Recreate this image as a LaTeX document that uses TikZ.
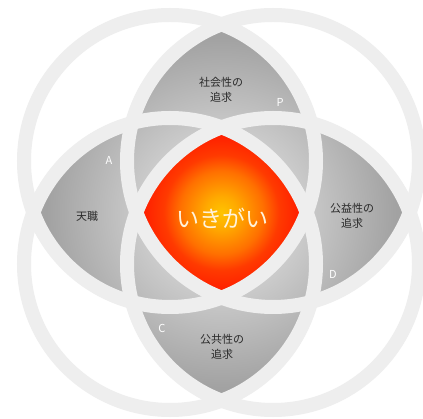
\documentclass[tikz,border=0pt]{standalone}
\usepackage{fontspec}
\newfontfamily\cjk{Noto Sans CJK JP}
\definecolor{ringc}{HTML}{EEEEEE}
\definecolor{pl}{HTML}{CDCDCD}
\definecolor{pm}{HTML}{B9B9B9}
\definecolor{pd}{HTML}{A2A2A2}
\definecolor{c0}{HTML}{FFC400}
\definecolor{c1}{HTML}{FFAA00}
\definecolor{c2}{HTML}{FF7000}
\definecolor{c3}{HTML}{FF3A00}
\definecolor{c4}{HTML}{FF2000}
\definecolor{labelc}{HTML}{2A2A2A}
\definecolor{corec}{HTML}{FFF3DC}
\pgfdeclareradialshading{petal}{\pgfpointorigin}{color(0bp)=(pl); color(10bp)=(pl); color(16bp)=(pm); color(23bp)=(pd); color(50bp)=(pd)}
\pgfdeclareradialshading{core}{\pgfpointorigin}{color(0bp)=(c0); color(5bp)=(c1); color(13bp)=(c2); color(18bp)=(c3); color(24bp)=(c4); color(50bp)=(c4)}
\tikzset{
  ring/.style={draw=ringc, line width=14pt},
  lbl/.style={font=\cjk\fontsize{11}{15.5}\selectfont, text=labelc, align=center, inner sep=0pt},
  letter/.style={font=\cjk\fontsize{11}{13}\selectfont, text=white, inner sep=0pt},
  coretext/.style={font=\cjk\fontsize{23}{26}\selectfont, text=corec, inner sep=0pt}
}
\begin{document}
\begin{tikzpicture}[x=1pt,y=-1pt]
\useasboundingbox (0,0) rectangle (423,419);
\fill[white] (0,0) rectangle (423,419);
\coordinate (TL) at (170,161);
\coordinate (TR) at (273,161);
\coordinate (BL) at (170,264);
\coordinate (BR) at (273,264);
\coordinate (O) at (221.5,212.5);
% petals
\foreach \a/\b in {TL/TR,TR/BR,BR/BL,BL/TL}{
  \begin{scope}
    \clip (\a) circle (146pt);
    \clip (\b) circle (146pt);
    \shade[shading=petal] (O) circle (190pt);
  \end{scope}
}
% core
\begin{scope}
  \clip (TL) circle (146pt);
  \clip (TR) circle (146pt);
  \clip (BL) circle (146pt);
  \clip (BR) circle (146pt);
  \shade[shading=core] (O) circle (80pt);
\end{scope}
% rings
\draw[ring] (TL) circle (146pt);
\draw[ring] (TR) circle (146pt);
\draw[ring] (BL) circle (146pt);
\draw[ring] (BR) circle (146pt);
% labels
\node[coretext] (core) at (222,218) {いきがい};
\node[lbl] (top) at (221,90) {社会性の\\追求};
\node[lbl] (left) at (87,216) {天職};
\node[lbl] (right) at (352,216) {公益性の\\追求};
\node[lbl] (bottom) at (222,347) {公共性の\\追求};
\node[letter] (P) at (280,102) {P};
\node[letter] (A) at (109,160) {A};
\node[letter] (D) at (333,274) {D};
\node[letter] (C) at (162,328) {C};
\end{tikzpicture}
\end{document}
